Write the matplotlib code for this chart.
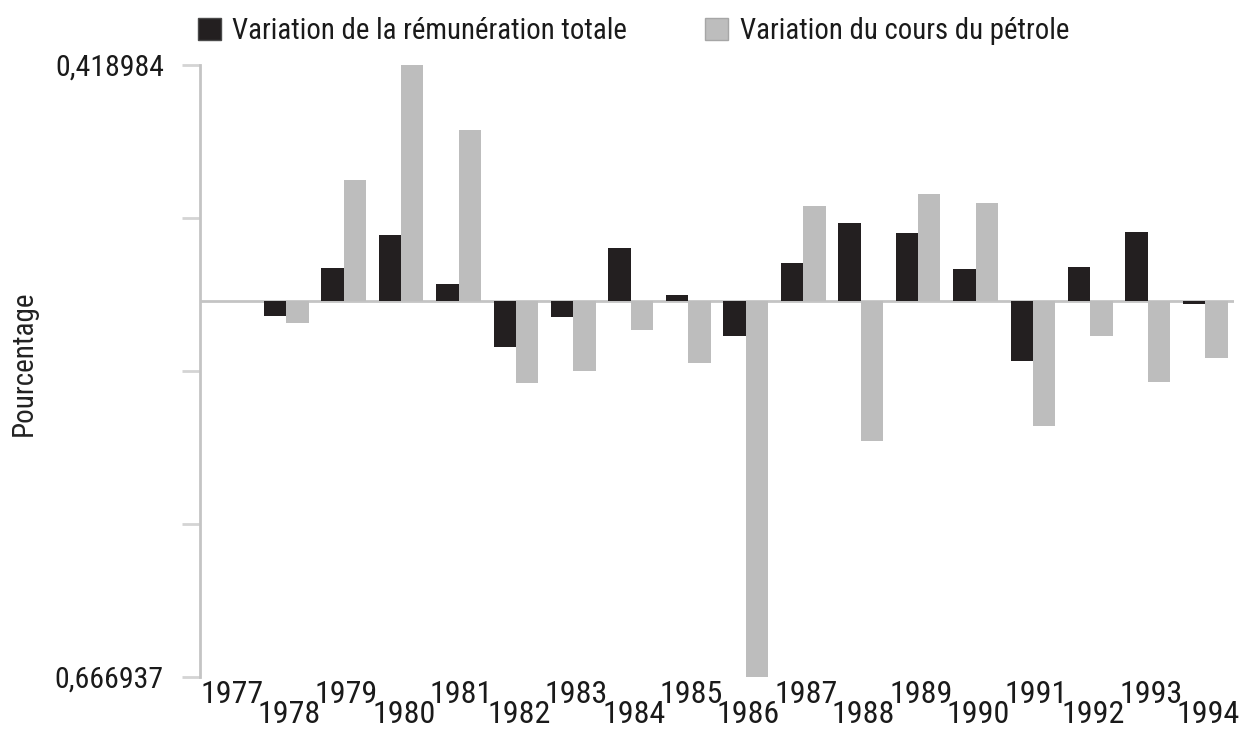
import matplotlib
matplotlib.use("Agg")
import matplotlib.pyplot as plt
import numpy as np
from matplotlib.patches import Patch

years = [str(y) for y in range(1977, 1995)]
remuneration = [0.0, -0.027, 0.059, 0.117, 0.030, -0.082, -0.028, 0.094, 0.010,
                -0.062, 0.067, 0.138, 0.121, 0.057, -0.106, 0.060, 0.122, -0.005]
petrole = [0.0, -0.039, 0.215, 0.418984, 0.303, -0.145, -0.124, -0.052, -0.110,
           -0.666937, 0.169, -0.248, 0.190, 0.174, -0.222, -0.062, -0.144, -0.101]
y_top = 0.418984
y_bottom = -0.666937
y_labels = ["0,666937", "", "", "", "0,418984"]
series_names = ["Variation de la rémunération totale", "Variation du cours du pétrole"]

plt.rcParams['font.family'] = ['Roboto Condensed', 'Liberation Sans', 'DejaVu Sans']

fig = plt.figure(figsize=(12.43, 7.29), dpi=100)
ax = fig.add_axes([200/1243, 1 - 677/729, 1034/1243, 612/729])

x = np.arange(len(years))
w = 0.39
black = '#231f20'
grey = '#bdbdbd'
ax.bar(x - w/2, remuneration, w, color=black, edgecolor='none', zorder=3)
ax.bar(x + w/2, petrole, w, color=grey, edgecolor='none', zorder=3)

ax.axhline(0, color='#c4c4c4', lw=2, zorder=2)
ax.set_xlim(-0.5, len(years) - 0.5)
ax.set_ylim(y_bottom, y_top)

for s in ['top', 'right', 'bottom']:
    ax.spines[s].set_visible(False)
ax.spines['left'].set_color('#c4c4c4')
ax.spines['left'].set_linewidth(2)

yt = np.linspace(y_bottom, y_top, 5)
ax.set_yticks(yt)
ax.set_yticklabels(y_labels, fontsize=21.5, color='#1a1a1a')
ax.tick_params(axis='y', length=13, width=2, color='#d4d4d4', pad=13)

ax.set_xticks(x + 0.05)
ax.set_xticklabels(years, fontsize=23, color='#1a1a1a')
ax.tick_params(axis='x', length=0, pad=2)
for i, lab in enumerate(ax.get_xticklabels()):
    if i % 2 == 1:
        lab.set_y(-20/612)

fig.text(24/1243, 1 - 363/729, "Pourcentage", rotation=90, fontsize=21,
         ha='center', va='center', color='#222222')

handles = [Patch(facecolor=black, edgecolor='#4a4a4a'), Patch(facecolor=grey, edgecolor='#a6a6a6')]
fig.legend(handles, series_names, loc='lower left', bbox_to_anchor=(198/1243, 1 - 45/729),
           ncol=2, frameon=False, fontsize=20.7, handlelength=0.8, handleheight=0.8,
           handletextpad=0.4, columnspacing=2.7, borderaxespad=0, borderpad=0,
           labelcolor='#1a1a1a')

fig.savefig("out.png", dpi=100, facecolor='white')
